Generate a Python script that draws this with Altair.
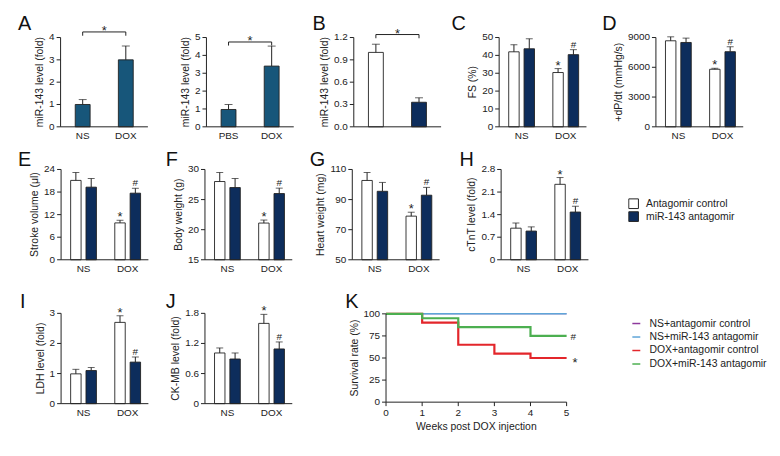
import altair as alt
import pandas as pd

W, H = 770, 446
FONT = "Liberation Sans Narrow, Liberation Sans, Arial, sans-serif"
INK = "#222222"
PW = 88
LFS = 10     # tick label font size
TFS = 10.5   # axis title font size

# ---------------- data ----------------
groups = ["NS", "DOX"]
treat = ["Antagomir control", "miR-143 antagomir"]
treat_fill = ["#ffffff", "#0d2d5c"]
a_fill = "#17567a"

a1_cats = ["NS", "DOX"]
a1_mean = [1.0, 3.0]
a1_sd = [0.22, 0.62]
a1_bracket = [4.08, 4.25]
a2_cats = ["PBS", "DOX"]
a2_mean = [0.97, 3.4]
a2_sd = [0.28, 1.12]
a2_bracket = [4.55, 4.75]
b_mean = [1.0, 0.33]
b_sd = [0.11, 0.06]
b_bracket = [1.19, 1.24]

# order: NS-control, NS-antagomir, DOX-control, DOX-antagomir
c_mean = [42.0, 43.7, 30.4, 40.4]
c_sd = [4.0, 5.6, 2.2, 2.8]
d_mean = [8670, 8500, 5800, 7570]
d_sd = [400, 440, 100, 500]
e_mean = [21.1, 19.3, 9.8, 17.7]
e_sd = [2.1, 2.3, 0.7, 1.3]
f_mean = [28.0, 27.0, 21.1, 26.0]
f_sd = [1.5, 1.5, 0.5, 0.9]
g_mean = [102.7, 95.5, 79.0, 92.9]
g_sd = [5.3, 5.9, 2.6, 5.2]
h_mean = [0.98, 0.89, 2.34, 1.48]
h_sd = [0.16, 0.13, 0.21, 0.18]
i_mean = [0.99, 1.10, 2.70, 1.38]
i_sd = [0.15, 0.10, 0.22, 0.17]
j_mean = [1.01, 0.89, 1.60, 1.09]
j_sd = [0.10, 0.12, 0.18, 0.14]

weeks = [0, 1, 2, 3, 4, 5]
surv_series = ["NS+antagomir control", "NS+miR-143 antagomir",
               "DOX+antagomir control", "DOX+miR-143 antagomir"]
surv_ns_ctrl = [100, 100, 100, 100, 100, 100]
surv_ns_anta = [100, 100, 100, 100, 100, 100]
surv_dox_ctrl = [100, 90, 65, 55, 50, 50]
surv_dox_anta = [100, 95, 85, 85, 75, 75]
surv_colors = ["#8e3a9d", "#5ea5d8", "#e3262b", "#4caf50"]
surv_widths = [0.8, 1.5, 2.2, 2.2]
surv_ticks = [0, 25, 50, 75, 100]

# ---------------- helpers ----------------
fill_enc = alt.Fill(
    "treat:N",
    scale=alt.Scale(domain=treat, range=treat_fill),
    legend=alt.Legend(orient="none", legendX=625, legendY=189, title=None,
                      symbolType="square", symbolSize=95, symbolStrokeColor=INK,
                      symbolStrokeWidth=1, labelFont=FONT, labelFontSize=10.5,
                      labelColor=INK, labelOffset=7, rowPadding=0, clipHeight=13),
)


def fmt_label(v, kind):
    if kind == "int":
        return str(int(round(v)))
    if kind == "1f":
        return f"{v:.1f}"
    return "0" if v == 0 else f"{v:.1f}"


def text_width(s, size=LFS):
    return sum((0.278 if ch == "." else 0.556) * size for ch in s)


def y_axis_layers(ys, left, top, bottom, ticks, kind, title):
    labs = [fmt_label(v, kind) for v in ticks]
    tdf = pd.DataFrame({"v": ticks, "lab": labs})
    ddf = pd.DataFrame({"lo": [min(ticks)], "hi": [max(ticks)]})
    yv = alt.Y("v:Q", scale=ys, axis=None)
    line = alt.Chart(ddf).mark_rule(color=INK, strokeWidth=1).encode(
        x=alt.value(left), y=alt.Y("lo:Q", scale=ys, axis=None), y2="hi:Q")
    tk = alt.Chart(tdf).mark_rule(color=INK, strokeWidth=1).encode(
        x=alt.value(left - 4), x2=alt.value(left), y=yv)
    lb = alt.Chart(tdf).mark_text(font=FONT, fontSize=LFS, color=INK, align="right",
                                  baseline="middle").encode(
        x=alt.value(left - 6), y=yv, text="lab:N")
    w = max(text_width(s) for s in labs)
    tt = alt.Chart(pd.DataFrame({"t": [title]})).mark_text(
        font=FONT, fontSize=TFS, color=INK, angle=270, align="center", baseline="middle"
    ).encode(x=alt.value(left - 15 - w), y=alt.value((top + bottom) / 2), text="t:N")
    return [line, tk, lb, tt]


def x_band_axis_layers(xs, field, cats, left, bottom, labels=True):
    ddf = pd.DataFrame({"v": [0]})
    line = alt.Chart(ddf).mark_rule(color=INK, strokeWidth=1).encode(
        x=alt.value(left), x2=alt.value(left + PW), y=alt.value(bottom))
    out = [line]
    if labels:
        ldf = pd.DataFrame({field: cats})
        out.append(alt.Chart(ldf).mark_text(font=FONT, fontSize=LFS, color=INK, align="center",
                                            baseline="top").encode(
            x=alt.X(f"{field}:N", scale=xs, axis=None), y=alt.value(bottom + 4), text=f"{field}:N"))
    return out


def single_panel(cats, mean, sd, bracket, left, top, bottom, dom, ticks, title,
                 color=None, labels=True, kind="int"):
    df = pd.DataFrame({"cat": cats, "mean": mean, "sd": sd})
    df["hi"] = df["mean"] + df["sd"]
    df["treat"] = cats
    xs = alt.Scale(domain=cats, range=[left, left + PW], paddingInner=0.655, paddingOuter=0.34)
    ys = alt.Scale(domain=dom, range=[bottom, top], nice=False, zero=False)
    xn = alt.X("cat:N", scale=xs, axis=None)
    base = alt.Chart(df)
    fill = alt.value(color) if color else fill_enc
    bars = base.mark_bar(stroke=INK, strokeWidth=0.9).encode(
        x=xn, y=alt.Y("mean:Q", scale=ys, axis=None), y2=alt.datum(dom[0]), fill=fill)
    rule = base.mark_rule(color=INK, strokeWidth=1).encode(
        x=xn, y=alt.Y("mean:Q", scale=ys, axis=None), y2="hi:Q")
    cap = base.mark_tick(color=INK, size=8, thickness=1).encode(
        x=xn, y=alt.Y("hi:Q", scale=ys, axis=None))
    br = pd.DataFrame({"cat": [cats[0], cats[0], cats[1], cats[1]],
                       "y": [bracket[0], bracket[1], bracket[1], bracket[0]],
                       "o": [0, 1, 2, 3]})
    bline = alt.Chart(br).mark_line(color=INK, strokeWidth=1).encode(
        x=xn, y=alt.Y("y:Q", scale=ys, axis=None), order="o:Q")
    star = alt.Chart(br).transform_filter("datum.o == 1").mark_text(
        text="*", font=FONT, fontSize=13, color=INK, baseline="alphabetic", dx=21.7, dy=3
    ).encode(x=xn, y=alt.Y("y:Q", scale=ys, axis=None))
    layers = [bars, rule, cap, bline, star]
    layers += y_axis_layers(ys, left, top, bottom, ticks, kind, title)
    layers += x_band_axis_layers(xs, "cat", cats, left, bottom, labels=labels)
    return alt.layer(*layers)


def grouped_panel(mean, sd, left, top, bottom, dom, ticks, title, kind="int"):
    df = pd.DataFrame({"group": [g for g in groups for _ in treat],
                       "treat": treat * 2, "mean": mean, "sd": sd})
    df["hi"] = df["mean"] + df["sd"]
    xs = alt.Scale(domain=groups, range=[left, left + PW], paddingInner=0.416,
                   paddingOuter=0.197, align=0.55)
    xos = alt.Scale(domain=treat, paddingInner=0.32, paddingOuter=0)
    ys = alt.Scale(domain=dom, range=[bottom, top], nice=False, zero=False)
    xn = alt.X("group:N", scale=xs, axis=None)
    xo = alt.XOffset("treat:N", scale=xos)
    base = alt.Chart(df)
    bars = base.mark_bar(stroke=INK, strokeWidth=0.9).encode(
        x=xn, xOffset=xo, y=alt.Y("mean:Q", scale=ys, axis=None),
        y2=alt.datum(dom[0]), fill=fill_enc)
    rule = base.mark_rule(color=INK, strokeWidth=1).encode(
        x=xn, xOffset=xo, y=alt.Y("mean:Q", scale=ys, axis=None), y2="hi:Q")
    cap = base.mark_tick(color=INK, size=7, thickness=1).encode(
        x=xn, xOffset=xo, y=alt.Y("hi:Q", scale=ys, axis=None))
    star = base.transform_filter(alt.datum.group == "DOX").transform_filter(
        alt.datum.treat == treat[0]).mark_text(
        text="*", font=FONT, fontSize=13, color=INK, baseline="alphabetic", dy=1
    ).encode(x=xn, xOffset=xo, y=alt.Y("hi:Q", scale=ys, axis=None))
    hsh = base.transform_filter(alt.datum.group == "DOX").transform_filter(
        alt.datum.treat == treat[1]).mark_text(
        text="#", font=FONT, fontSize=10, color=INK, baseline="alphabetic", dy=-2
    ).encode(x=xn, xOffset=xo, y=alt.Y("hi:Q", scale=ys, axis=None))
    layers = [bars, rule, cap, star, hsh]
    layers += y_axis_layers(ys, left, top, bottom, ticks, kind, title)
    layers += x_band_axis_layers(xs, "group", groups, left, bottom)
    return alt.layer(*layers)


# ---------------- layout (chart coordinates) ----------------
R1T, R1B = 28, 118
R2T, R2B = 161, 252
R3T, R3B = 306, 397

panels = [
    single_panel(a1_cats, a1_mean, a1_sd, a1_bracket, 53, R1T, R1B, [0, 4], [0, 1, 2, 3, 4],
                 "miR-143 level (fold)", color=a_fill),
    single_panel(a2_cats, a2_mean, a2_sd, a2_bracket, 200, R1T, R1B, [0, 5], [0, 1, 2, 3, 4, 5],
                 "miR-143 level (fold)", color=a_fill),
    single_panel(treat, b_mean, b_sd, b_bracket, 348.5, R1T, R1B, [0, 1.2], [0, 0.3, 0.6, 0.9, 1.2],
                 "miR-143 level (fold)", labels=False, kind="1f"),
    grouped_panel(c_mean, c_sd, 495, R1T, R1B, [0, 50], [0, 10, 20, 30, 40, 50], "FS (%)"),
    grouped_panel(d_mean, d_sd, 653, R1T, R1B, [0, 9000], [0, 3000, 6000, 9000], "+dP/dt (mmHg/s)"),
    grouped_panel(e_mean, e_sd, 53.5, R2T, R2B, [0, 24], [0, 6, 12, 18, 24], "Stroke volume (μl)"),
    grouped_panel(f_mean, f_sd, 198.5, R2T, R2B, [15, 30], [15, 20, 25, 30], "Body weight (g)"),
    grouped_panel(g_mean, g_sd, 347, R2T, R2B, [50, 110], [50, 70, 90, 110], "Heart weight (mg)"),
    grouped_panel(h_mean, h_sd, 497, R2T, R2B, [0, 2.8], [0, 0.7, 1.4, 2.1, 2.8], "cTnT level (fold)",
                  kind="dec"),
    grouped_panel(i_mean, i_sd, 53.5, R3T, R3B, [0, 3], [0, 1, 2, 3], "LDH level (fold)"),
    grouped_panel(j_mean, j_sd, 198.5, R3T, R3B, [0, 1.8], [0, 0.6, 1.2, 1.8], "CK-MB level (fold)",
                  kind="dec"),
]

# ---------------- panel K ----------------
rows = []
for s, vals in zip(surv_series, [surv_ns_ctrl, surv_ns_anta, surv_dox_ctrl, surv_dox_anta]):
    for w, v in zip(weeks, vals):
        rows.append({"series": s, "week": w, "surv": v})
kdf = pd.DataFrame(rows)
KL, KR, KT, KB = 381, 563, 306.5, 395.5
kxs = alt.Scale(domain=[0, 5], range=[KL, KR], nice=False, zero=False)
kys = alt.Scale(domain=[0, 100], range=[KB, KT], nice=False, zero=False)
kx = alt.X("week:Q", scale=kxs, axis=None)
ky = alt.Y("surv:Q", scale=kys, axis=None)
stroke_enc = alt.Stroke(
    "series:N", scale=alt.Scale(domain=surv_series, range=surv_colors),
    legend=alt.Legend(orient="none", legendX=628, legendY=311, title=None, symbolType="stroke",
                      symbolSize=64, symbolStrokeWidth=1.5, labelFont=FONT, labelFontSize=10.5,
                      labelColor=INK, labelOffset=8, rowPadding=2.6))
k_layers = []
for idx, s in enumerate(surv_series):
    k_layers.append(
        alt.Chart(kdf).transform_filter(alt.datum.series == s)
        .mark_line(interpolate="step-after", strokeWidth=surv_widths[idx])
        .encode(x=kx, y=ky, stroke=stroke_enc)
    )
k_ann = pd.DataFrame({"week": [5, 5], "surv": [surv_dox_anta[-1], surv_dox_ctrl[-1]], "lab": ["#", "*"]})
k_layers.append(
    alt.Chart(k_ann).transform_filter("datum.lab == '#'").mark_text(
        font=FONT, fontSize=10, color=INK, align="left", baseline="alphabetic", dx=4, dy=4)
    .encode(x=kx, y=ky, text="lab:N"))
k_layers.append(
    alt.Chart(k_ann).transform_filter("datum.lab == '*'").mark_text(
        font=FONT, fontSize=13, color=INK, align="left", baseline="alphabetic", dx=6, dy=9)
    .encode(x=kx, y=ky, text="lab:N"))
# K axes
k_layers += y_axis_layers(kys, KL, KT, KB, surv_ticks, "int", "Survival rate (%)")
kwdf = pd.DataFrame({"week": weeks, "lab": [str(w) for w in weeks]})
k_layers.append(alt.Chart(pd.DataFrame({"lo": [weeks[0]], "hi": [weeks[-1]]})).mark_rule(
    color=INK, strokeWidth=1).encode(x=alt.X("lo:Q", scale=kxs, axis=None), x2="hi:Q", y=alt.value(KB)))
k_layers.append(alt.Chart(kwdf).mark_rule(color=INK, strokeWidth=1).encode(
    x=kx, y=alt.value(KB), y2=alt.value(KB + 4)))
k_layers.append(alt.Chart(kwdf).mark_text(font=FONT, fontSize=LFS, color=INK, align="center",
                                          baseline="top").encode(
    x=kx, y=alt.value(KB + 6), text="lab:N"))
k_layers.append(alt.Chart(pd.DataFrame({"t": ["Weeks post DOX injection"]})).mark_text(
    font=FONT, fontSize=TFS, color=INK, align="center", baseline="middle").encode(
    x=alt.value((KL + KR) / 2), y=alt.value(KB + 25), text="t:N"))
panels.append(alt.layer(*k_layers))

# ---------------- panel letters ----------------
letters = [("A", 10, 20), ("B", 307, 20), ("C", 447, 20), ("D", 599, 20),
           ("E", 10, 157), ("F", 159, 157), ("G", 304, 157), ("H", 455, 157),
           ("I", 12, 301), ("J", 159, 301), ("K", 340, 301)]
for t, lx, ly in letters:
    panels.append(
        alt.Chart(pd.DataFrame({"t": [t]})).mark_text(
            font=FONT, fontSize=20, color="#111111", align="left", baseline="alphabetic")
        .encode(x=alt.value(lx), y=alt.value(ly), text="t:N"))

chart = (
    alt.layer(*panels)
    .resolve_scale(x="independent", y="independent", xOffset="independent")
    .properties(width=W, height=H, padding=0, autosize=alt.AutoSizeParams(type="none"))
    .configure_view(stroke=None)
)

chart.save("out.html", embed_options={"renderer": "svg", "actions": False})
